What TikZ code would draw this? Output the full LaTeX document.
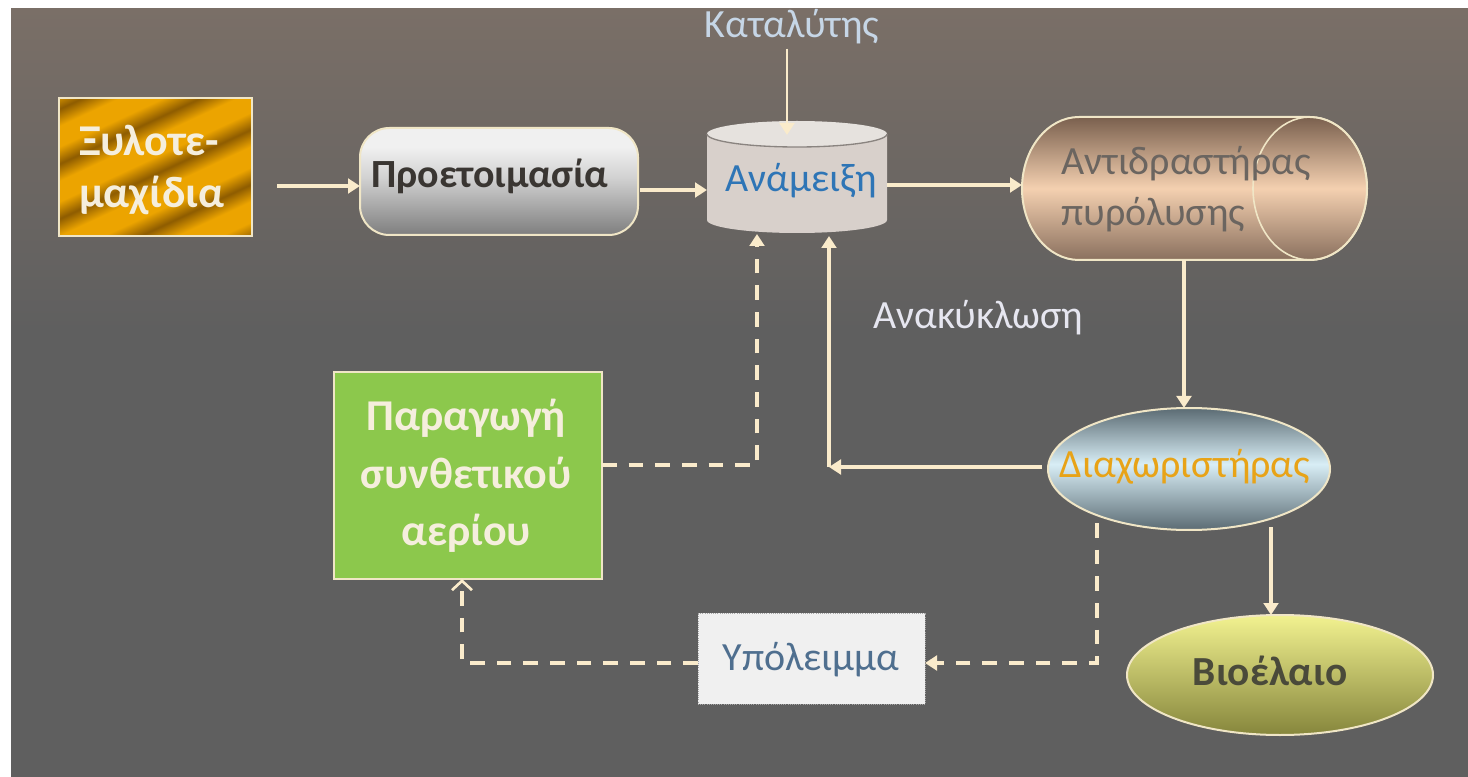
\documentclass[tikz,border=0pt]{standalone}
\usepackage{fontspec}
\setmainfont{Carlito}
\usetikzlibrary{arrows.meta,calc,shapes.geometric}
\definecolor{bgT}{HTML}{7A6F67}
\definecolor{bgB}{HTML}{5F5F5F}
\definecolor{cream}{HTML}{FAEBCB}
\definecolor{edge}{HTML}{F0E6C6}
\definecolor{gD}{HTML}{8E5C00}
\definecolor{gB}{HTML}{ECA400}
\definecolor{pT}{HTML}{F0F0F0}
\definecolor{pM}{HTML}{D2D2D2}
\definecolor{pB}{HTML}{7E7E7E}
\definecolor{rT}{HTML}{7A604E}
\definecolor{rM}{HTML}{F4D0B0}
\definecolor{rB}{HTML}{8A705E}
\definecolor{dT}{HTML}{5B6B73}
\definecolor{dM}{HTML}{D8EEF6}
\definecolor{dB}{HTML}{5B6B73}
\definecolor{yT}{HTML}{F2F290}
\definecolor{yB}{HTML}{86863C}
\definecolor{cylBody}{HTML}{D8D0CB}
\definecolor{cylTop}{HTML}{E6E2DE}
\definecolor{cylRim}{HTML}{8A8480}
\definecolor{synthG}{HTML}{8CC84C}
\definecolor{ypolF}{HTML}{F0F0F0}
\definecolor{txtBlue}{HTML}{2E75B6}
\definecolor{txtReact}{HTML}{6B6560}
\definecolor{txtGold}{HTML}{E8A317}
\definecolor{txtBio}{HTML}{4A4A3A}
\definecolor{txtProet}{HTML}{3A3632}
\definecolor{txtLight}{HTML}{F5EEDD}
\definecolor{txtYpol}{HTML}{4F6F8F}
\definecolor{txtKatal}{HTML}{C6D6E6}
\definecolor{txtAnak}{HTML}{E6E6F0}
\pgfdeclarehorizontalshading{goldstripes}{100bp}{color(0bp)=(gD); color(5bp)=(gB); color(11bp)=(gB); color(16bp)=(gD); color(21bp)=(gB); color(27bp)=(gB); color(32bp)=(gD); color(37bp)=(gB); color(43bp)=(gB); color(48bp)=(gD); color(53bp)=(gB); color(59bp)=(gB); color(64bp)=(gD); color(69bp)=(gB); color(75bp)=(gB); color(80bp)=(gD); color(85bp)=(gB); color(91bp)=(gB); color(96bp)=(gD); color(100bp)=(gD)}
\pgfdeclareverticalshading{proetsh}{100bp}{color(0bp)=(pB); color(25bp)=(pB); color(52bp)=(pM); color(66bp)=(pT); color(75bp)=(pT); color(100bp)=(pT)}
\pgfdeclareverticalshading{reactsh}{100bp}{color(0bp)=(rB); color(25bp)=(rB); color(50bp)=(rM); color(75bp)=(rT); color(100bp)=(rT)}
\pgfdeclareverticalshading{diaxsh}{100bp}{color(0bp)=(dB); color(25bp)=(dB); color(52bp)=(dM); color(75bp)=(dT); color(100bp)=(dT)}
\pgfdeclareverticalshading{biosh}{100bp}{color(0bp)=(yB); color(25bp)=(yB); color(75bp)=(yT); color(100bp)=(yT)}
\begin{document}
\begin{tikzpicture}[x=0.75pt,y=0.75pt,
  bigfont/.style={font=\fontsize{30}{38}\selectfont},
  arr/.style={draw=cream, line width=3pt, -{Triangle[length=9pt,width=11pt]}},
  darr/.style={draw=cream, line width=2.5pt, dash pattern=on 11pt off 9pt, -{Triangle[length=9pt,width=11pt]}},
  oarr/.style={draw=cream, line width=2.5pt, dash pattern=on 11pt off 9pt, -{Straight Barb[length=7pt,width=15pt,line width=2pt]}},
  boxedge/.style={draw=edge, line width=1.5pt},
  ghost/.style={inner sep=0pt, outer sep=0pt}
]
\useasboundingbox (0,0) rectangle (1468,-777);
\fill[white] (0,0) rectangle (1468,-777);
\fill[bgB] (11,-9) rectangle (1468,-777);
\shade[top color=bgT,bottom color=bgB] (11,-9) rectangle (1468,-330);

% Ξυλοτεμαχίδια
\node[boxedge, ghost, shading=goldstripes, shading angle=115, minimum width=144.75pt, minimum height=103.5pt] (xylo) at (155.5,-167) {};
\node[font=\fontsize{33}{39}\selectfont\bfseries, text=txtLight, align=left, inner sep=0pt, anchor=west] (xyloT) at (79,-170) {Ξυλοτε-\\μαχίδια};

% Προετοιμασία
\node[boxedge, ghost, shading=proetsh, rounded corners=22pt, minimum width=208.5pt, minimum height=80.25pt] (proet) at (499,-181.5) {};
\node[font=\fontsize{30}{36}\selectfont\bfseries, text=txtProet, inner sep=0pt] (proetT) at (490,-176) {Προετοιμασία};

% Ανάμειξη cylinder
\node[ghost, minimum width=135pt, minimum height=84.75pt] (anam) at (797,-176.5) {};
\fill[cylBody] (707,-134) -- (707,-220) arc (180:360:90 and 13) -- (887,-134) -- cycle;
\fill[cylTop] (797,-134) ellipse (90 and 13);
\draw[cylRim, line width=1pt] (707,-134) arc (180:360:90 and 13);
\node[bigfont, text=txtBlue, inner sep=0pt] (anamT) at (801,-181) {Ανάμειξη};

% Αντιδραστήρας πυρόλυσης (horizontal cylinder)
\node[ghost, minimum width=258.75pt, minimum height=107.25pt] (react) at (1194.5,-188.5) {};
\path[boxedge, shading=reactsh] (1079,-117) -- (1310,-117) arc (90:-90:57 and 71.5) -- (1079,-260) arc (270:90:57 and 71.5) -- cycle;
\draw[edge, line width=1.2pt] (1310,-188.5) ellipse (57 and 71.5);
\node[bigfont, text=txtReact, align=left, anchor=west, inner sep=0pt] (reactT) at (1061,-189) {Αντιδραστήρας\\πυρόλυσης};

% Διαχωριστήρας
\node[ellipse, boxedge, ghost, shading=diaxsh, minimum width=211.5pt, minimum height=91.5pt] (diax) at (1189,-469) {};
\node[bigfont, text=txtGold, inner sep=0pt] (diaxT) at (1185,-467) {Διαχωριστήρας};

% Βιοέλαιο
\node[ellipse, boxedge, ghost, shading=biosh, minimum width=229.5pt, minimum height=90pt] (bio) at (1280,-675) {};
\node[font=\fontsize{31}{37}\selectfont\bfseries, text=txtBio, inner sep=0pt] (bioT) at (1270,-671) {Βιοέλαιο};

% Παραγωγή συνθετικού αερίου
\node[boxedge, ghost, fill=synthG, minimum width=201pt, minimum height=155.25pt] (synth) at (468,-475.5) {};
\node[font=\fontsize{33}{43}\selectfont\bfseries, text=txtLight, align=center, inner sep=0pt] (synthT) at (466,-476) {Παραγωγή\\συνθετικού\\αερίου};

% Υπόλειμμα
\node[draw=gray!70, densely dotted, line width=0.6pt, ghost, fill=ypolF, minimum width=170.25pt, minimum height=68.25pt] (ypol) at (811.5,-658.5) {};
\node[bigfont, text=txtYpol, inner sep=0pt] (ypolT) at (811,-660) {Υπόλειμμα};

% free labels
\node[bigfont, text=txtKatal, inner sep=0pt] (katal) at (792,-27) {Καταλύτης};
\node[bigfont, text=txtAnak, inner sep=0pt] (anak) at (978,-318) {Ανακύκλωση};

% connectors
\coordinate (c1) at (277,-186);
\draw[arr] (c1) -- (c1 -| proet.west);
\coordinate (c2) at (640,-190);
\draw[arr] (c2) -- (c2 -| anam.west);
\coordinate (c3) at (787,-135);
\draw[arr, line width=2.2pt] ($(c3 |- katal.south)+(0,-4)$) -- (c3);
\coordinate (c4) at (887,-185);
\draw[arr] (c4) -- (c4 -| react.west);
\coordinate (c5) at (1184,-260);
\draw[arr] (c5 |- react.south) -- (c5 |- diax.north);
\coordinate (recyc) at (829,-467);
\draw[arr] ($(diax.west |- recyc)+(-6,0)$) -- (recyc);
\draw[arr] (recyc) -- ($(recyc |- anam.south)+(0,-3)$);
\coordinate (c7) at (757,-465);
\draw[darr] (synth.east |- c7) -- (c7) -- ($(c7 |- anam.south)+(0,-1)$);
\coordinate (c8) at (1097,-663);
\draw[darr] ($(c8 |- diax.south)+(0,7)$) -- (c8) -- (c8 -| ypol.east);
\coordinate (c9) at (462,-663);
\draw[oarr] (c9 -| ypol.west) -- (c9) -- (c9 |- synth.south);
\coordinate (c10) at (1271,-527);
\draw[arr] (c10) -- (c10 |- bio.north);
\end{tikzpicture}
\end{document}
